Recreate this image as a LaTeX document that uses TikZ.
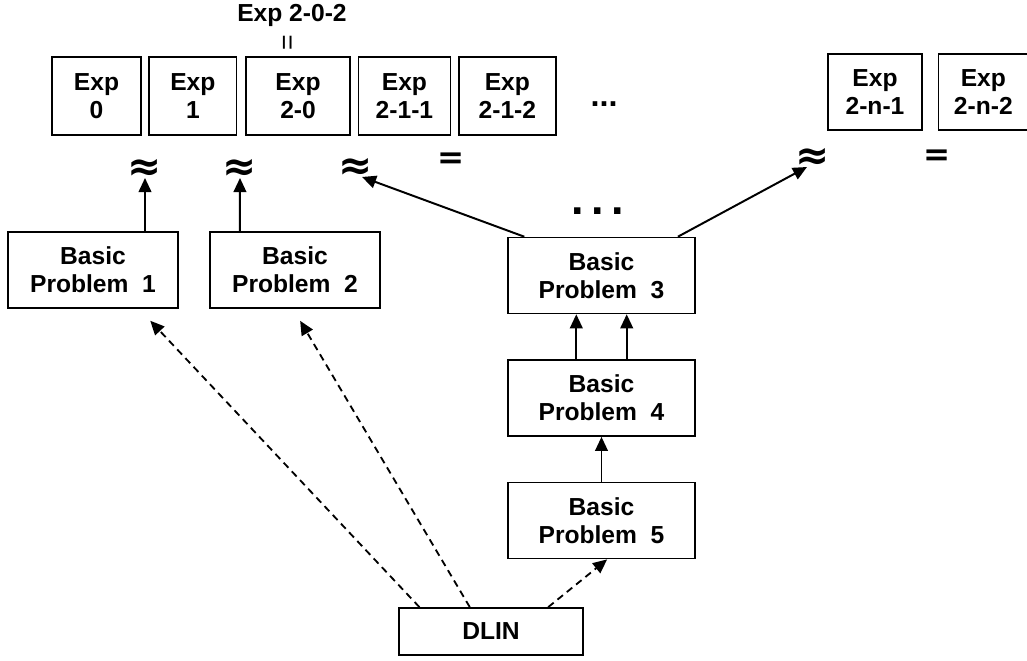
\documentclass[tikz,border=0pt]{standalone}
\usepackage{fontspec}
\setmainfont{Liberation Sans}
\newfontfamily\symfont{DejaVu Sans}
\usepackage{tikz}
\usetikzlibrary{arrows.meta, positioning, calc}

\begin{document}
\begin{tikzpicture}[
        x=0.025cm, y=-0.025cm,
        node distance=0.17cm,
        >={Triangle[length=10pt,width=9pt]},
        font=\bfseries\fontsize{17.5}{20}\selectfont,
        expbox/.style={rectangle, draw=black, line width=1.1pt, minimum height=1.95cm, inner sep=0pt, align=center},
        probbox/.style={rectangle, draw=black, line width=1.1pt, minimum width=4.25cm, minimum height=1.9cm, inner sep=0pt, align=center},
        relsym/.style={font=\symfont\bfseries\fontsize{29}{29}\selectfont, inner sep=1pt},
        eqsym/.style={font=\symfont\bfseries\fontsize{23}{23}\selectfont, inner sep=1pt},
        solidarrow/.style={->, line width=1.4pt},
        dasharrow/.style={->, line width=1.3pt, dash pattern=on 5pt off 3.5pt}
    ]
    \useasboundingbox (0,0) rectangle (1027,661);

    % 1. Hang tren: cac khoi Exp
    \node[expbox, minimum width=2.22cm] (exp0) at (96.5,96) {Exp\\0};
    \node[expbox, minimum width=2.18cm, right=of exp0] (exp1) {Exp\\1};
    \node[expbox, minimum width=2.6cm, right=0.2cm of exp1] (exp20) {Exp\\2-0};
    \node[expbox, minimum width=2.3cm, right=of exp20] (exp211) {Exp\\2-1-1};
    \node[expbox, minimum width=2.43cm, right=of exp211] (exp212) {Exp\\2-1-2};
    \node[font=\bfseries\fontsize{23}{23}\selectfont] (topdots) at (604,104) {...};
    \node[expbox, minimum width=2.35cm, minimum height=1.9cm] (exp2n1) at (875,92) {Exp\\2-n-1};
    \node[expbox, minimum width=2.25cm, minimum height=1.9cm, right=0.37cm of exp2n1] (exp2n2) {Exp\\2-n-2};

    \node (exp202) at (292,15) {Exp 2-0-2};
    \node[rotate=90, font=\fontsize{19}{19}\selectfont, inner sep=0pt] (eqsmall) at (290,43) {=};

    % 2. Cac ky hieu quan he
    \node[relsym] (aprx1) at (145,170) {≈};
    \node[relsym] (aprx2) at (240,170) {≈};
    \node[relsym] (aprx3) at (356,169) {≈};
    \node[eqsym] (eq1) at (451,161) {=};
    \node[relsym] (aprx4) at (813,159) {≈};
    \node[eqsym] (eq2) at (937,158) {=};

    % 3. Cac bai toan co ban
    \node[probbox] (bp1) at (93,270) {Basic\\Problem\ \ 1};
    \node[probbox] (bp2) at (295,270) {Basic\\Problem\ \ 2};
    \node[probbox, minimum width=4.68cm] (bp3) at (601.5,275.5) {Basic\\Problem\ \ 3};
    \node[probbox, minimum width=4.68cm, below=1.125cm of bp3] (bp4) {Basic\\Problem\ \ 4};
    \node[probbox, minimum width=4.68cm, below=1.125cm of bp4] (bp5) {Basic\\Problem\ \ 5};
    \node[font=\bfseries\fontsize{32}{32}\selectfont] (middots) at (598,211) {.\,.\,.};
    \node[probbox, minimum width=4.6cm, minimum height=1.18cm] (dlin) at (491,631.5) {DLIN};

    % 4. Mui ten lien
    \draw[solidarrow] ([xshift=1.3cm]bp1.north) -- ([yshift=-0.2cm]aprx1.center);
    \draw[solidarrow] ([xshift=-1.38cm]bp2.north) -- ([yshift=-0.2cm]aprx2.center);
    \draw[solidarrow] ([xshift=0.43cm]bp3.north west) -- ([xshift=0.15cm,yshift=-0.2cm]aprx3.center);
    \draw[solidarrow] ([xshift=-0.45cm]bp3.north east) -- ([xshift=-0.15cm,yshift=-0.2cm]aprx4.center);
    \draw[solidarrow] ([xshift=-0.63cm]bp4.north) -- ([xshift=-0.63cm]bp3.south);
    \draw[solidarrow] ([xshift=0.63cm]bp4.north) -- ([xshift=0.63cm]bp3.south);
    \draw[solidarrow] (bp5.north) -- (bp4.south);

    % 5. Mui ten net dut tu DLIN
    \draw[dasharrow, shorten >=0.41cm] ([xshift=0.53cm]dlin.north west) -- ([xshift=1.15cm]bp1.south);
    \draw[dasharrow, shorten >=0.35cm] ([xshift=-0.53cm]dlin.north) -- ([xshift=-0.05cm]bp2.south);
    \draw[dasharrow] ([xshift=1.43cm]dlin.north) -- ([xshift=0.14cm]bp5.south);

\end{tikzpicture}
\end{document}
